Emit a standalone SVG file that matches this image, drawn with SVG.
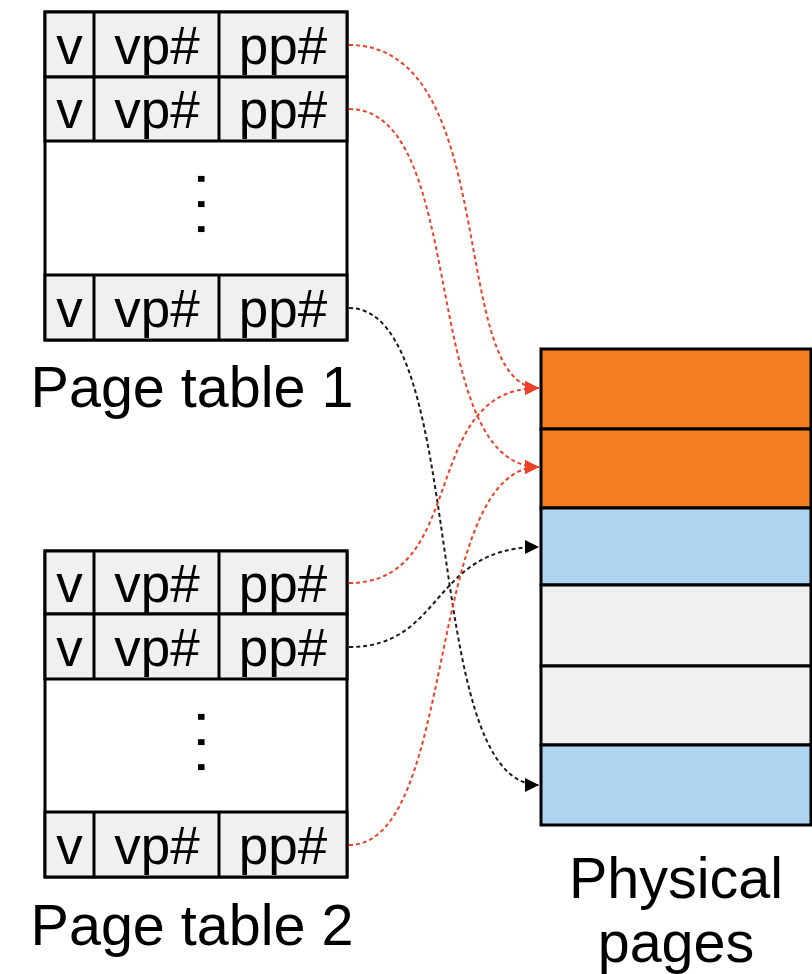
<svg xmlns="http://www.w3.org/2000/svg" width="812" height="974" viewBox="0 0 812 974">
<style>
.tbl{fill:#ffffff;stroke:#000;stroke-width:3}
.cell{fill:#f0f0f0;stroke:#000;stroke-width:3}
.ln{stroke:#000;stroke-width:3}
.ct{font-family:"Liberation Sans",Arial,sans-serif;font-size:53px;fill:#000;text-anchor:middle}
.lbl{font-family:"Liberation Sans",Arial,sans-serif;font-size:57.5px;fill:#000;text-anchor:middle}
.dots{font-family:"Liberation Sans",Arial,sans-serif;font-size:62px;letter-spacing:8px;fill:#000;text-anchor:middle}
.pg{stroke:#000;stroke-width:3}
.red{fill:none;stroke:#ef4129;stroke-width:2;stroke-dasharray:4 3}
.blk{fill:none;stroke:#1a1a1a;stroke-width:2;stroke-dasharray:4 3}
</style>
<defs>
<marker id="ar" markerUnits="userSpaceOnUse" viewBox="0 0 12 12" markerWidth="14" markerHeight="14" refX="12" refY="6" orient="auto">
<path d="M0,0 L12,6 L0,12 z" fill="#ef4129"/>
</marker>
<marker id="ab" markerUnits="userSpaceOnUse" viewBox="0 0 12 12" markerWidth="14" markerHeight="14" refX="12" refY="6" orient="auto">
<path d="M0,0 L12,6 L0,12 z" fill="#000"/>
</marker>
</defs>

<g id="pagetable1">
<rect class="tbl" x="45" y="12" width="302" height="328"/>
<rect class="cell" x="45" y="12" width="302" height="65"/>
<rect class="cell" x="45" y="77" width="302" height="64"/>
<rect class="cell" x="45" y="275" width="302" height="65"/>
<line class="ln" x1="94" y1="12" x2="94" y2="141"/>
<line class="ln" x1="219" y1="12" x2="219" y2="141"/>
<line class="ln" x1="94" y1="275" x2="94" y2="340"/>
<line class="ln" x1="219" y1="275" x2="219" y2="340"/>
<text class="ct" x="69.5" y="64">v</text>
<text class="ct" x="157" y="64">vp#</text>
<text class="ct" x="283" y="64">pp#</text>
<text class="ct" x="69.5" y="128">v</text>
<text class="ct" x="157" y="128">vp#</text>
<text class="ct" x="283" y="128">pp#</text>
<text class="dots" transform="translate(198,208) rotate(90)">...</text>
<text class="ct" x="69.5" y="327">v</text>
<text class="ct" x="157" y="327">vp#</text>
<text class="ct" x="283" y="327">pp#</text>
<text class="lbl" x="192" y="407">Page table 1</text>
</g>

<g id="pagetable2">
<rect class="tbl" x="45" y="551" width="302" height="326"/>
<rect class="cell" x="45" y="551" width="302" height="63"/>
<rect class="cell" x="45" y="614" width="302" height="65"/>
<rect class="cell" x="45" y="812" width="302" height="65"/>
<line class="ln" x1="94" y1="551" x2="94" y2="679"/>
<line class="ln" x1="219" y1="551" x2="219" y2="679"/>
<line class="ln" x1="94" y1="812" x2="94" y2="877"/>
<line class="ln" x1="219" y1="812" x2="219" y2="877"/>
<text class="ct" x="69.5" y="602">v</text>
<text class="ct" x="157" y="602">vp#</text>
<text class="ct" x="283" y="602">pp#</text>
<text class="ct" x="69.5" y="666">v</text>
<text class="ct" x="157" y="666">vp#</text>
<text class="ct" x="283" y="666">pp#</text>
<text class="dots" transform="translate(198,746) rotate(90)">...</text>
<text class="ct" x="69.5" y="864">v</text>
<text class="ct" x="157" y="864">vp#</text>
<text class="ct" x="283" y="864">pp#</text>
<text class="lbl" x="192" y="945">Page table 2</text>
</g>

<g id="physicalpages">
<rect class="pg" x="541" y="349" width="270" height="80" fill="#f47d20"/>
<rect class="pg" x="541" y="429" width="270" height="79" fill="#f47d20"/>
<rect class="pg" x="541" y="508" width="270" height="77" fill="#aed4f0"/>
<rect class="pg" x="541" y="585" width="270" height="81" fill="#f0f0f0"/>
<rect class="pg" x="541" y="666" width="270" height="79" fill="#f0f0f0"/>
<rect class="pg" x="541" y="745" width="270" height="80" fill="#aed4f0"/>
<text class="lbl" x="676" y="898">Physical</text>
<text class="lbl" x="676" y="962">pages</text>
</g>

<g id="connectors">
<path class="red" d="M349,45 C503,45 447,388 539,388" marker-end="url(#ar)"/>
<path class="red" d="M349,109 C470,109 418,467 539,467" marker-end="url(#ar)"/>
<path class="blk" d="M349,308 C470,308 418,785 539,785" marker-end="url(#ab)"/>
<path class="red" d="M349,583 C470,583 418,388 539,388" marker-end="url(#ar)"/>
<path class="blk" d="M349,647 C445,647 430,547 539,547" marker-end="url(#ab)"/>
<path class="red" d="M349,845 C458,845 425,467 539,467" marker-end="url(#ar)"/>
</g>
</svg>
